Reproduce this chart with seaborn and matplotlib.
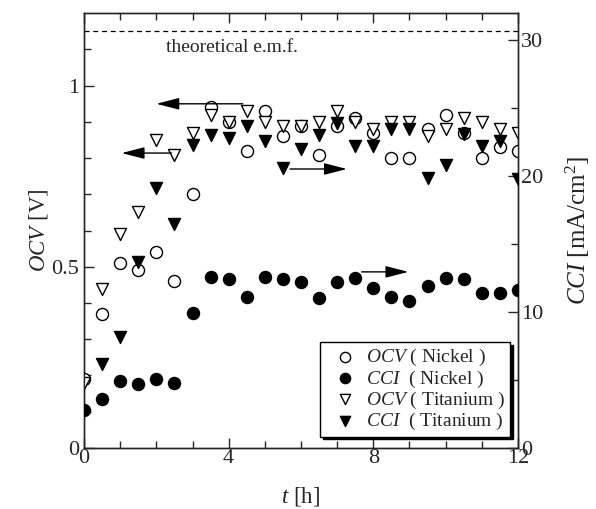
import numpy as np
import pandas as pd
import matplotlib
matplotlib.use('Agg')
import matplotlib.pyplot as plt
import seaborn as sns

# datos
tiempo = [0, 0.5, 1, 1.5, 2, 2.5, 3, 3.5, 4, 4.5, 5, 5.5, 6, 6.5, 7, 7.5, 8, 8.5, 9, 9.5, 10, 10.5, 11, 11.5, 12]
ocv_nickel = [0.19, 0.37, 0.51, 0.49, 0.54, 0.46, 0.70, 0.94, 0.90, 0.82, 0.93, 0.86, 0.89, 0.81, 0.89, 0.91,
              0.87, 0.80, 0.80, 0.88, 0.92, 0.87, 0.80, 0.83, 0.82]
cci_nickel = [2.8, 3.6, 4.9, 4.7, 5.1, 4.8, 9.9, 12.6, 12.4, 11.1, 12.6, 12.4, 12.2, 11.0, 12.2, 12.5,
              11.8, 11.1, 10.8, 11.9, 12.5, 12.4, 11.4, 11.4, 11.6]
ocv_titanium = [0.18, 0.44, 0.59, 0.65, 0.85, 0.81, 0.87, 0.92, 0.90, 0.93, 0.90, 0.89, 0.89, 0.90, 0.93, 0.90,
                0.88, 0.90, 0.90, 0.86, 0.88, 0.91, 0.90, 0.88, 0.87]
tiempo_cci_ti = tiempo[1:]
cci_titanium = [6.2, 8.2, 13.7, 19.1, 16.5, 22.3, 23.0, 22.8, 23.7, 22.6, 20.6, 22.0, 23.0, 23.9, 22.2,
                22.2, 23.5, 23.5, 19.9, 20.8, 23.1, 22.2, 22.6, 19.8]
emf_teorica = 1.15

df_ni = pd.DataFrame({'t': tiempo, 'ocv': ocv_nickel, 'cci': cci_nickel})
df_ti = pd.DataFrame({'t': tiempo, 'ocv': ocv_titanium})
df_ti_cci = pd.DataFrame({'t': tiempo_cci_ti, 'cci': cci_titanium})

sns.set_style('ticks')
plt.rcParams['font.family'] = ['Liberation Serif', 'DejaVu Serif']
plt.rcParams['mathtext.fontset'] = 'custom'
plt.rcParams['mathtext.rm'] = 'Liberation Serif'
plt.rcParams['mathtext.it'] = 'Liberation Serif:italic'
plt.rcParams['xtick.direction'] = 'in'
plt.rcParams['ytick.direction'] = 'in'

fig = plt.figure(figsize=(5.96, 5.09), dpi=100)
ax = fig.add_axes([0.141, 0.12, 0.728, 0.854])
ax2 = ax.twinx()

tam = 75
sns.scatterplot(data=df_ni, x='t', y='ocv', ax=ax, marker='o', s=tam, color='white',
                edgecolor='black', linewidth=1, label=r'$\mathit{OCV}$ ( Nickel )', zorder=3)
sns.scatterplot(data=df_ti, x='t', y='ocv', ax=ax, marker='v', s=tam, color='white',
                edgecolor='black', linewidth=1, label=r'$\mathit{OCV}$ ( Titanium )', zorder=3)
sns.scatterplot(data=df_ni, x='t', y='cci', ax=ax2, marker='o', s=tam, color='black',
                edgecolor='black', linewidth=1, label=r'$\mathit{CCI}$  ( Nickel )', zorder=3)
sns.scatterplot(data=df_ti_cci, x='t', y='cci', ax=ax2, marker='v', s=tam, color='black',
                edgecolor='black', linewidth=1, label=r'$\mathit{CCI}$  ( Titanium )', zorder=3)

ax.axhline(emf_teorica, color='black', lw=0.9, ls=(0, (4, 3)))
ax.text(2.27, 1.105, 'theoretical e.m.f.', fontsize=14, va='center', ha='left')

# flechas que indican el eje de cada serie
flecha = dict(arrowstyle='-|>,head_length=0.7,head_width=0.18', color='black', lw=1, mutation_scale=20,
              shrinkA=0, shrinkB=0)
ax.annotate('', xy=(2.0, 0.95), xytext=(4.39, 0.95), arrowprops=flecha)
ax.annotate('', xy=(1.04, 0.814), xytext=(2.42, 0.814), arrowprops=flecha)
ax.annotate('', xy=(7.27, 0.77), xytext=(5.7, 0.77), arrowprops=flecha)
ax.annotate('', xy=(8.97, 0.486), xytext=(7.68, 0.486), arrowprops=flecha)

ax.set_xlim(0, 12)
ax.set_ylim(0, 1.2)
ax2.set_ylim(0, 32)
ax.set_xticks([0, 4, 8, 12])
ax.set_xticks(np.arange(0, 13, 1), minor=True)
ax.set_yticks([0, 0.5, 1])
ax.set_yticklabels(['0', '0.5', '1'])
ax.set_yticks(np.arange(0, 1.2, 0.1), minor=True)
ax2.set_yticks([0, 10, 20, 30])
ax2.set_yticks([5, 15, 25], minor=True)

ax.tick_params(axis='both', which='major', labelsize=16, length=7, width=1, top=True, right=False)
ax.tick_params(axis='both', which='minor', length=5, width=1, top=True, right=False)
ax.tick_params(axis='x', pad=1)
ax2.tick_params(axis='y', which='major', labelsize=16, length=7, width=1, pad=2)
ax2.tick_params(axis='y', which='minor', length=5, width=1)

for lado in ['top', 'bottom', 'left', 'right']:
    ax.spines[lado].set_linewidth(1)
    ax2.spines[lado].set_linewidth(1)

ax.set_xlabel(r'$\mathit{t}$ [h]', fontsize=16.5, labelpad=12)
ax.set_ylabel(r'$\mathit{OCV}$ [V]', fontsize=16.5, labelpad=1)
ax2.set_ylabel(r'$\mathit{CCI}$ [mA/cm$^{2}$]', fontsize=18, labelpad=15)

h1, l1 = ax.get_legend_handles_labels()
h2, l2 = ax2.get_legend_handles_labels()
ax.get_legend().remove()
ax2.get_legend().remove()
handles = [h1[0], h2[0], h1[1], h2[1]]
labels = [l1[0], l2[0], l1[1], l2[1]]
leg = ax2.legend(handles, labels, loc='lower right', bbox_to_anchor=(0.982, 0.026), borderaxespad=0,
                 fontsize=14, frameon=True, fancybox=False, edgecolor='black', framealpha=1,
                 shadow={'color': 'black', 'alpha': 1}, labelspacing=0.0, handletextpad=0.1,
                 handlelength=2.0, borderpad=0.25, markerscale=0.85)
leg.get_frame().set_linewidth(1)
leg.set_zorder(10)

fig.savefig('out.png', dpi=100)
